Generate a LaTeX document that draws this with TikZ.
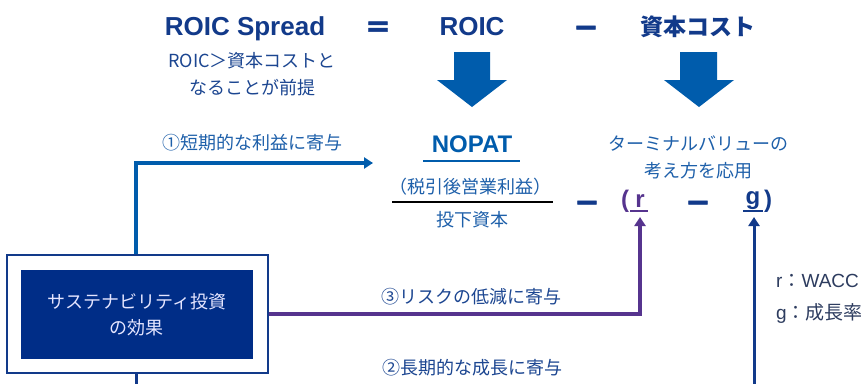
\documentclass[tikz,border=0pt]{standalone}
\usepackage{fontspec}
\setmainfont{Liberation Sans}
\newfontfamily\jp{Noto Sans CJK JP}
\newfontfamily\opfont{DejaVu Sans Bold}[FakeBold=1.5]
\usetikzlibrary{arrows.meta}
\definecolor{navy}{RGB}{18,58,138}
\definecolor{ablue}{RGB}{0,92,172}
\definecolor{tblue}{RGB}{30,96,170}
\definecolor{sblue}{RGB}{28,70,145}
\definecolor{purp}{RGB}{86,52,142}
\definecolor{boxnavy}{RGB}{0,45,135}
\definecolor{legend}{RGB}{45,60,95}
\tikzset{
  latbig/.style={font=\fontsize{26}{30}\selectfont\bfseries, text=navy, inner sep=0pt},
  jpbig/.style={font=\jp\fontsize{23}{28}\selectfont\bfseries, text=navy, inner sep=0pt},
  opsym/.style={font=\opfont\fontsize{30}{34}\selectfont, text=navy, inner sep=0pt, anchor=base},
  jtext/.style={font=\jp\fontsize{18}{27}\selectfont, text=tblue, align=center, inner sep=0pt},
  bigarrow/.style={fill=ablue, draw=none},
  bluearr/.style={draw=ablue, line width=3.2pt, -{Triangle[length=9pt,width=11pt]}},
  purparr/.style={draw=purp, line width=3.2pt, -{Triangle[length=9pt,width=11pt]}},
  navyarr/.style={draw=navy, line width=3pt, -{Triangle[length=9pt,width=11pt]}},
  navyline/.style={draw=navy, line width=3pt},
  outerbox/.style={draw=navy, line width=1.2pt, fill=white, minimum width=261pt, minimum height=118pt, inner sep=0pt},
  innerbox/.style={fill=boxnavy, text=white!90!blue, minimum width=232pt, minimum height=89pt, inner sep=0pt, align=center, font=\jp\fontsize{18}{26}\selectfont},
}
\begin{document}
\begin{tikzpicture}[x=1pt,y=-1pt]
\useasboundingbox (0,0) rectangle (865,383);
\clip (0,0) rectangle (865,383);
\fill[white] (0,0) rectangle (865,383);

% top equation
\node[latbig, anchor=base] (spread) at (245,35) {ROIC Spread};
\node[opsym] (eq) at (378,36) {=};
\node[latbig, anchor=base] (roic) at (472,35) {ROIC};
\node[opsym] (minus1) at (586,37) {−};
\node[jpbig] (cost) at (698,27) {資本コスト};

\node[jtext, text=sblue] (premise) at (252,74.5) {ROIC＞資本コストと\\なることが前提};

% big arrows
\fill[bigarrow] (454,52) -- (490,52) -- (490,80) -- (507,80) -- (472,107) -- (437,80) -- (454,80) -- cycle;
\fill[bigarrow] (680,52) -- (717,52) -- (717,80) -- (734,80) -- (699,107) -- (664,80) -- (680,80) -- cycle;

% fraction
\node[font=\fontsize{24}{28}\selectfont\bfseries, text=ablue, inner sep=0pt, anchor=base] (nopat) at (472,152) {NOPAT};
\draw[ablue, line width=1.6pt] (423,161) -- (520,161);
\node[jtext] (zei) at (470,187) {（税引後営業利益）};
\draw[black, line width=1.8pt] (392,202) -- (553,202);
\node[jtext] (toka) at (472,220) {投下資本};

\node[opsym] (minus2) at (587,212) {−};
\node[font=\fontsize{24}{28}\selectfont\bfseries, text=purp, inner sep=0pt, anchor=base] (lpar) at (625,207) {(};
\node[font=\fontsize{24}{28}\selectfont\bfseries, text=purp, inner sep=0pt, anchor=base] (rsym) at (640,207) {r};
\draw[purp, line width=2pt] (630,211) -- (648,211);
\node[opsym] (minus3) at (698,212) {−};
\node[font=\fontsize{24}{28}\selectfont\bfseries, text=navy, inner sep=0pt, anchor=base] (gsym) at (753,204) {g};
\node[font=\fontsize{24}{28}\selectfont\bfseries, text=navy, inner sep=0pt, anchor=base] (rpar) at (768,207) {)};
\draw[navy, line width=2pt] (743,211) -- (763,211);

\node[jtext] (terminal) at (698,157) {ターミナルバリューの\\考え方を応用};

% labels
\node[jtext] (l1) at (252,143) {①短期的な利益に寄与};
\node[jtext, text=sblue] (l3) at (471,297) {③リスクの低減に寄与};
\node[jtext, text=sblue] (l2) at (472,368) {②長期的な成長に寄与};

\node[jtext, text=legend, align=left, anchor=west, font=\fontsize{19}{32}\selectfont] (leg) at (776,299) {r{\jp ：}WACC\\g{\jp ：成長率}};

% box
\node[outerbox] (box) at (137.5,314) {};
\node[innerbox] (inner) at (137,314.5) {サステナビリティ投資\\の効果};

% connectors
\coordinate (c1) at (373,163);
\coordinate (rtip) at (640,217);
\coordinate (gtip) at (754,217);
\coordinate (gbot) at (754,386);
\coordinate (bbot) at (136,386);
\draw[bluearr] ([xshift=-1.5pt]box.north) |- (c1);
\draw[purparr] (box.east) -| (rtip);
\draw[navyarr] (gbot) -- (gtip);
\draw[navyline] ([xshift=-1.5pt]box.south) -- (bbot);
\end{tikzpicture}
\end{document}
